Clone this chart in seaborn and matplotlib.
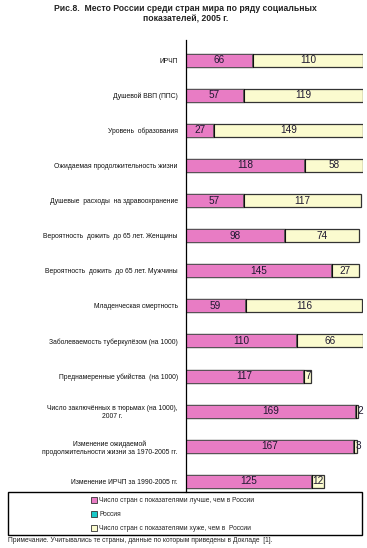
import numpy as np
import pandas as pd
import matplotlib
matplotlib.use("Agg")
import matplotlib.pyplot as plt
import seaborn as sns
from matplotlib.patches import Rectangle, Patch

# данные
categories = [
    "ИРЧП",
    "Душевой ВВП (ППС)",
    "Уровень  образования",
    "Ожидаемая продолжительность жизни",
    "Душевые  расходы  на здравоохранение",
    "Вероятность  дожить  до 65 лет. Женщины",
    "Вероятность  дожить  до 65 лет. Мужчины",
    "Младенческая смертность",
    "Заболеваемость туберкулёзом (на 1000)",
    "Преднамеренные убийства  (на 1000)",
    "Число заключённых в тюрьмах (на 1000),\n2007 г.",
    "Изменение ожидаемой\nпродолжительности жизни за 1970-2005 гг.",
    "Изменение ИРЧП за 1990-2005 гг.",
]
better = [66, 57, 27, 118, 57, 98, 145, 59, 110, 117, 169, 167, 125]
russia = [1, 1, 1, 1, 1, 1, 1, 1, 1, 1, 1, 1, 1]
worse = [110, 119, 149, 58, 117, 74, 27, 116, 66, 7, 2, 3, 12]

legend_labels = [
    "Число стран с показателями лучше, чем в России",
    "Россия",
    "Число стран с показателями хуже, чем в  России",
]

pink = "#e87cc4"
cyan = "#19c8c8"
yellow = "#fbfbcf"

df = pd.DataFrame({"cat": categories, "better": better, "russia": russia, "worse": worse})
df["upto_russia"] = df["better"] + df["russia"]
df["total"] = df["upto_russia"] + df["worse"]

sns.set_style("white")
plt.rcParams["font.family"] = ["Liberation Sans", "DejaVu Sans"]

fig = plt.figure(figsize=(3.67, 5.48), dpi=100)
ax = fig.add_axes([186 / 367, 56 / 548, 177 / 367, 452 / 548])

# накопленные полосы, сверху вниз
sns.barplot(data=df, x="total", y="cat", color=yellow, orient="h", width=0.37,
            edgecolor="#333333", linewidth=0.9, saturation=1, ax=ax)
sns.barplot(data=df, x="upto_russia", y="cat", color="#111111", orient="h", width=0.37,
            edgecolor="#111111", linewidth=0.8, saturation=1, ax=ax)
sns.barplot(data=df, x="better", y="cat", color=pink, orient="h", width=0.37,
            edgecolor="#555555", linewidth=0.6, saturation=1, ax=ax)

for i, row in df.iterrows():
    ax.text(row["better"] / 2, i, str(row["better"]), ha="center", va="center",
            fontsize=7.2, color="#1e1830")
    ax.text(row["upto_russia"] + max(row["worse"], 9) / 2, i, str(row["worse"]),
            ha="center", va="center", fontsize=7.2, color="#1e1830")

ax.set_xlim(0, 177)
ax.set_ylim(12.3, -0.57)
ax.set_xticks([])
ax.set_xlabel("")
ax.set_ylabel("")
ax.tick_params(axis="y", length=0, pad=6, labelsize=4.9, labelcolor="#111111")
for lab in ax.get_yticklabels():
    lab.set_multialignment("center")
for s in ["top", "right", "bottom"]:
    ax.spines[s].set_visible(False)
ax.spines["left"].set_color("black")
ax.spines["left"].set_linewidth(0.9)

fig.text(0.505, 0.993, "Рис.8.  Место России среди стран мира по ряду социальных\nпоказателей, 2005 г.",
         ha="center", va="top", fontsize=6.2, fontweight="bold", color="#222222", linespacing=1.2)

# рамка легенды
fig.patches.append(Rectangle((8 / 367, 1 - 535 / 548), 354 / 367, 43 / 548,
                             transform=fig.transFigure, fill=False,
                             edgecolor="black", linewidth=1.0))
handles = [Patch(facecolor=pink, edgecolor="#333333", linewidth=0.6),
           Patch(facecolor=cyan, edgecolor="#333333", linewidth=0.6),
           Patch(facecolor=yellow, edgecolor="#333333", linewidth=0.6)]
fig.legend(handles, legend_labels, loc="upper left", bbox_to_anchor=(88 / 367, 1 - 494 / 548),
           frameon=False, fontsize=4.8, handlelength=0.8, handleheight=0.8,
           handletextpad=0.4, labelspacing=1.05, borderpad=0, labelcolor="#222222")

fig.text(8 / 367, 1 - 541 / 548,
         "Примечание. Учитывались те страны, данные по которым приведены в Докладе  [1].",
         ha="left", va="center", fontsize=4.8, color="#222222")

fig.savefig("out.png", dpi=100)
